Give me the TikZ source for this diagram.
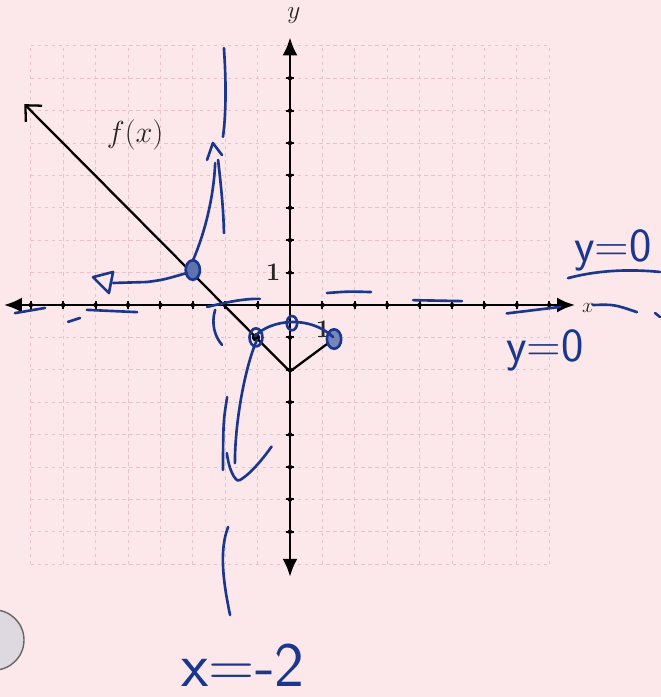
\documentclass[tikz,border=0pt]{standalone}
\usetikzlibrary{arrows.meta}
\definecolor{paper}{RGB}{252,232,234}
\definecolor{ink}{RGB}{26,54,142}
\definecolor{gridpink}{RGB}{228,196,202}
\definecolor{discgray}{RGB}{222,216,224}
\begin{document}
\begin{tikzpicture}[x=0.648cm,y=0.648cm,
axis/.style={line width=1.6pt,{Latex[length=3.6mm,width=3mm]}-{Latex[length=3.6mm,width=3mm]}},
gridline/.style={gridpink,line width=0.5pt,dash pattern=on 2pt off 2pt},
tick/.style={line width=1.1pt},
graphline/.style={line width=1.3pt,line join=round},
pen/.style={ink,line width=1.5pt,line cap=round,line join=round},
printed/.style={inner sep=0pt,text=black!85},
hand/.style={inner sep=0pt,text=ink,font=\sffamily\fontsize{27}{30}\selectfont}
]
\useasboundingbox (-8.951,-12.099) rectangle (11.451,9.414);
\fill[paper] (-8.951,-12.099) rectangle (11.451,9.414);
\draw[gridline,step=1] (-8,-8) grid (8,8);
\draw[axis] (-8.83,0) -- (8.8,0);
\draw[axis] (0,-8.39) -- (0,8.26);
\foreach \k in {-8,...,-1,1,2,...,8} {
  \draw[tick] (\k,-0.13) -- (\k,0.13);
  \fill (\k,0) circle (0.07);
}
\foreach \k in {-7,...,-1,1,2,...,7} {
  \draw[tick] (-0.13,\k) -- (0.13,\k);
  \fill (0,\k) circle (0.07);
}
\node[printed,font=\Large] (ylab) at (0.12,8.95) {$y$};
\node[printed,font=\large] (xlab) at (9.2,-0.09) {$x$};
\node[printed,font=\LARGE] (fname) at (-4.78,5.25) {$f(x)$};
\node[printed,font=\Large\bfseries] (oney) at (-0.52,1.02) {1};
\node[printed,font=\Large\bfseries] (onex) at (1.02,-0.74) {1};
\draw[graphline,{Straight Barb[length=2.4mm,width=4.6mm,line width=1.3pt]}-] (-8.2,6.2) -- (-1.05,-1.0) -- (0,-2.05) -- (1.35,-1.05);
\fill (-1.05,-1.0) circle (0.13);
\fill (1.35,-1.05) circle (0.13);
\draw[pen,fill=ink!70] (-3,1.08) ellipse (0.22 and 0.3);
\draw[pen] (-1.05,-1.0) ellipse (0.2 and 0.28);
\draw[pen] (0.06,-0.56) ellipse (0.16 and 0.22);
\draw[pen,fill=ink!60] (1.36,-1.05) ellipse (0.22 and 0.3);
\draw[pen] (-3.18,0.99) .. controls (-3.9,0.78) .. (-4.41,0.71) -- (-5.46,0.68);
\draw[pen] (-6.08,0.86) -- (-5.46,1.02) -- (-5.59,0.37) -- cycle;
\draw[pen] (-2.99,1.39) .. controls (-2.6,2.3) and (-2.35,3.4) .. (-2.31,4.38);
\draw[pen] (-2.56,4.48) -- (-2.38,5.0) -- (-2.10,4.63);
\draw[pen] (-2.22,4.48) .. controls (-2.12,3.6) and (-2.05,2.9) .. (-2.04,2.22);
\draw[pen] (-2.04,7.93) .. controls (-1.96,6.8) and (-1.98,5.8) .. (-2.07,5.19);
\draw[pen] (-2.31,-0.15) .. controls (-2.45,-0.6) and (-2.3,-1.0) .. (-2.10,-1.23);
\draw[pen] (-2.56,-0.06) .. controls (-1.9,0.1) and (-1.4,0.2) .. (-0.93,0.19);
\draw[pen] (-1.02,-1.08) .. controls (-1.35,-1.8) and (-1.7,-3.5) .. (-1.70,-4.88);
\draw[pen] (-1.94,-2.84) .. controls (-2.06,-3.6) .. (-2.07,-5.09);
\draw[pen] (-1.95,-4.57) .. controls (-1.85,-5.3) and (-1.6,-5.5) .. (-1.54,-5.40) .. controls (-1.2,-5.2) and (-0.8,-4.7) .. (-0.57,-4.37);
\draw[pen] (-1.91,-6.85) .. controls (-2.2,-7.6) and (-2.05,-8.6) .. (-1.85,-9.57);
\draw[pen] (-1.08,-0.96) .. controls (-0.6,-0.45) and (0.6,-0.3) .. (1.33,-0.99);
\draw[pen] (-8.49,-0.25) -- (-7.56,-0.09);
\draw[pen] (-6.85,-0.52) -- (-6.48,-0.40);
\draw[pen] (-6.27,-0.15) -- (-4.72,-0.22);
\draw[pen] (1.14,0.37) .. controls (1.8,0.42) .. (2.5,0.40);
\draw[pen] (3.80,0.15) -- (5.31,0.12);
\draw[pen] (6.69,-0.26) -- (8.33,-0.06);
\draw[pen] (9.35,0) .. controls (10.0,0.02) .. (10.71,-0.22);
\draw[pen] (11.27,-0.25) -- (11.42,-0.37);
\node[hand] (ytop) at (9.97,1.70) {y=0};
\draw[pen] (8.58,0.83) .. controls (9.6,1.1) and (10.6,1.1) .. (11.42,1.02);
\node[hand] (ybot) at (7.87,-1.39) {y=0};
\node[hand,font=\sffamily\fontsize{36}{40}\selectfont] (xasym) at (-1.45,-11.11) {x=-2};
\draw[gray!80!black,line width=0.8pt,fill=discgray] (-9.14,-10.34) circle (0.93);
\end{tikzpicture}
\end{document}
